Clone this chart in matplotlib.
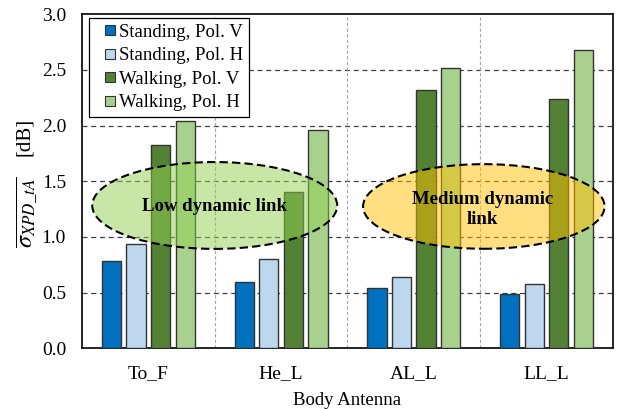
import matplotlib
matplotlib.use("Agg")
import matplotlib.pyplot as plt
import numpy as np
from matplotlib.lines import Line2D
from matplotlib.patches import Ellipse

plt.rcParams["font.family"] = ["Liberation Serif", "DejaVu Serif"]
plt.rcParams["mathtext.fontset"] = "stix"

antennas = ["To_F", "He_L", "AL_L", "LL_L"]
series_names = ["Standing, Pol. V", "Standing, Pol. H", "Walking, Pol. V", "Walking, Pol. H"]
standing_v = [0.78, 0.60, 0.54, 0.49]
standing_h = [0.94, 0.80, 0.64, 0.58]
walking_v = [1.83, 1.40, 2.32, 2.24]
walking_h = [2.04, 1.96, 2.52, 2.68]
series_colors = ["#0070C0", "#BDD7EE", "#548235", "#A9D18E"]

fig = plt.figure(figsize=(6.19, 4.09), dpi=100)
ax = fig.add_axes([0.1325, 0.1484, 0.8575, 0.8166])

x = np.arange(len(antennas))
width = 0.145
pitch = 0.185
all_series = [standing_v, standing_h, walking_v, walking_h]
for i, (vals, name, color) in enumerate(zip(all_series, series_names, series_colors)):
    offset = (i - 1.5) * pitch
    ax.bar(x + offset, vals, width, color=color, edgecolor="#333333",
           linewidth=1.0, zorder=3)

# grid lines
for yv in [0.5, 1.0, 1.5, 2.0, 2.5]:
    ax.axhline(yv, color="#404040", linestyle=(0, (4, 3)), linewidth=0.9, zorder=1)
for xv in [0.5, 1.5, 2.5]:
    ax.axvline(xv, color="#a6a6a6", linestyle=(0, (3, 2)), linewidth=0.8, zorder=1)

# annotation ellipses
ax.add_patch(Ellipse((0.5, 1.283), 1.846, 0.78, facecolor="#92D050", alpha=0.5,
                     edgecolor="none", zorder=4))
ax.add_patch(Ellipse((0.5, 1.283), 1.846, 0.78, facecolor="none", edgecolor="black",
                     linestyle=(0, (4, 2)), linewidth=1.5, zorder=5))
ax.add_patch(Ellipse((2.528, 1.274), 1.82, 0.76, facecolor="#FFC000", alpha=0.5,
                     edgecolor="none", zorder=4))
ax.add_patch(Ellipse((2.528, 1.274), 1.82, 0.76, facecolor="none", edgecolor="black",
                     linestyle=(0, (4, 2)), linewidth=1.5, zorder=5))
ax.text(0.5, 1.27, "Low dynamic link", ha="center", va="center",
        fontsize=13.5, fontweight="bold", zorder=6)
ax.text(2.52, 1.25, "Medium dynamic\nlink", ha="center", va="center",
        fontsize=13.5, fontweight="bold", linespacing=1.25, zorder=6)

ax.set_xlim(-0.5, 3.5)
ax.set_ylim(0, 3.0)
ax.set_yticks(np.arange(0, 3.01, 0.5))
ax.set_yticklabels([f"{v:.1f}" for v in np.arange(0, 3.01, 0.5)])
ax.set_xticks(x)
ax.set_xticklabels(antennas)
ax.tick_params(axis="both", length=0, labelsize=14)
ax.tick_params(axis="x", pad=12)
ax.tick_params(axis="y", pad=11.5)
for sp in ax.spines.values():
    sp.set_linewidth(1.2)
    sp.set_color("black")

ax.set_xlabel("Body Antenna", fontsize=13.5, labelpad=7)

# y label: overlined sigma and unit
fig.text(27 / 619, 1 - 212 / 409, r"$\overline{\sigma_{XPD\_tA}}$", rotation=90,
         ha="center", va="center", fontsize=17.5)
fig.text(25 / 619, 1 - 137 / 409, "[dB]", rotation=90,
         ha="center", va="center", fontsize=15)

# legend with small square keys
handles = [Line2D([], [], linestyle="none", marker="s", markersize=7.2,
                  markerfacecolor=c, markeredgecolor="#333333", markeredgewidth=0.8)
           for c in series_colors]
leg = ax.legend(handles, series_names, loc="upper left", fontsize=13.5, frameon=True,
                fancybox=False, edgecolor="black", framealpha=1, handlelength=1.64,
                handletextpad=-0.34, labelspacing=0.34, borderpad=0.3,
                borderaxespad=0, bbox_to_anchor=(0.013, 0.989))
leg.get_frame().set_linewidth(0.9)
leg.set_zorder(7)

fig.savefig("out.png", dpi=100)
